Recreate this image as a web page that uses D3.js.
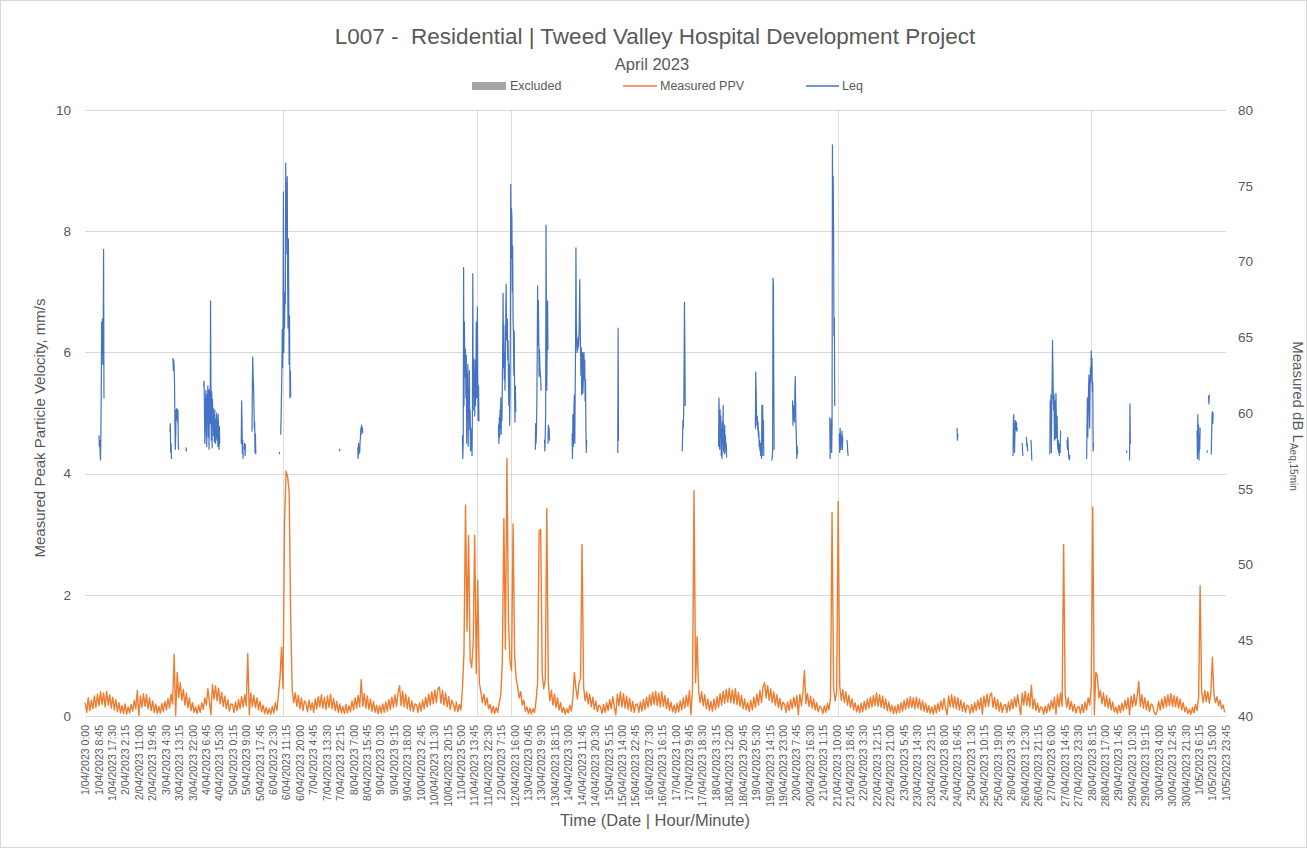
<!DOCTYPE html>
<html>
<head>
<meta charset="utf-8">
<script src="https://cdn.jsdelivr.net/npm/d3@7"></script>
<style>
  body { margin: 0; background: #fff; }
  svg { font-family: "Liberation Sans", Arial, sans-serif; }
</style>
</head>
<body>
<svg id="chart" width="1307" height="848"></svg>
<script>
// logger records every 15 min, 1/04/2023 0:00 -> 1/05/2023 23:45
const firstTime = "1/04/2023 0:00";
const lastTime = "1/05/2023 23:45";
const labelEvery = 35; // one category label every 8h45
const leftTicks = [0, 2, 4, 6, 8, 10];
const rightTicks = [40, 45, 50, 55, 60, 65, 70, 75, 80];

// Measured PPV (mm/s), hourly readings, one row per day
const ppv = [
  [0.22,0.06,0.30,0.09,0.26,0.12,0.33,0.14,0.36,0.17,0.40,0.19,0.38,0.15,0.41,0.18,0.35,0.13,0.31,0.10,0.27,0.07,0.22,0.05], // 1/04
  [0.17,0.04,0.20,0.03,0.15,0.05,0.19,0.08,0.26,0.12,0.42,0.01,0.33,0.14,0.37,0.16,0.35,0.12,0.30,0.09,0.25,0.06,0.20,0.04],
  [0.16,0.05,0.21,0.07,0.24,0.10,0.29,0.13,0.36,0.20,1.02,0.01,0.72,0.30,0.55,0.26,0.44,0.18,0.38,0.14,0.30,0.09,0.22,0.06],
  [0.15,0.04,0.18,0.06,0.22,0.11,0.30,0.18,0.45,0.24,0.02,0.52,0.28,0.50,0.25,0.46,0.20,0.39,0.16,0.33,0.12,0.27,0.08,0.20],
  [0.19,0.06,0.23,0.09,0.27,0.12,0.32,0.15,0.35,0.17,1.03,0.02,0.38,0.16,0.34,0.14,0.30,0.10,0.24,0.07,0.18,0.04,0.14,0.03], // 5/04
  [0.12,0.03,0.16,0.05,0.22,0.09,0.35,0.62,1.13,0.45,3.20,4.04,3.95,3.70,1.60,0.42,0.22,0.38,0.16,0.34,0.12,0.30,0.09,0.25],
  [0.21,0.07,0.26,0.10,0.22,0.06,0.28,0.12,0.32,0.15,0.35,0.13,0.31,0.11,0.33,0.14,0.36,0.12,0.29,0.09,0.24,0.06,0.20,0.05],
  [0.16,0.04,0.19,0.05,0.17,0.07,0.25,0.10,0.30,0.13,0.34,0.15,0.60,0.16,0.37,0.13,0.33,0.11,0.28,0.08,0.24,0.06,0.18,0.04],
  [0.17,0.05,0.20,0.06,0.23,0.08,0.27,0.11,0.31,0.14,0.35,0.16,0.38,0.50,0.17,0.41,0.15,0.36,0.12,0.31,0.09,0.25,0.07,0.20],
  [0.18,0.06,0.22,0.08,0.26,0.12,0.31,0.15,0.36,0.18,0.40,0.20,0.43,0.22,0.45,0.48,0.21,0.42,0.18,0.38,0.15,0.32,0.11,0.26], // 10/04
  [0.20,0.08,0.23,0.07,0.19,0.10,0.45,1.05,3.48,1.40,2.98,0.95,0.80,1.20,2.98,0.70,2.24,0.55,0.40,0.22,0.36,0.18,0.30,0.12],
  [0.19,0.05,0.16,0.04,0.14,0.06,0.22,0.35,0.90,3.26,1.10,4.25,1.60,0.90,0.75,3.17,1.00,0.62,0.48,0.30,0.40,0.18,0.26,0.08],
  [0.15,0.04,0.13,0.03,0.12,0.06,0.25,0.55,3.05,3.08,0.70,0.45,0.60,3.42,0.55,0.25,0.42,0.18,0.36,0.14,0.30,0.10,0.22,0.06],
  [0.14,0.03,0.12,0.05,0.18,0.08,0.30,0.72,0.45,0.28,0.55,0.62,2.83,0.48,0.25,0.40,0.20,0.36,0.15,0.31,0.11,0.25,0.07,0.18],
  [0.15,0.04,0.19,0.06,0.22,0.09,0.27,0.12,0.32,0.15,0.02,0.36,0.17,0.40,0.15,0.37,0.13,0.33,0.11,0.29,0.08,0.24,0.06,0.19], // 15/04
  [0.20,0.06,0.23,0.08,0.27,0.11,0.31,0.14,0.35,0.17,0.39,0.19,0.41,0.17,0.38,0.15,0.40,0.16,0.34,0.12,0.29,0.09,0.23,0.07],
  [0.18,0.05,0.21,0.07,0.25,0.10,0.30,0.13,0.34,0.16,0.42,0.02,0.45,3.72,0.55,1.31,0.42,0.22,0.40,0.17,0.35,0.12,0.28,0.09],
  [0.24,0.08,0.28,0.11,0.32,0.14,0.37,0.18,0.41,0.21,0.44,0.23,0.46,0.22,0.43,0.20,0.45,0.19,0.39,0.16,0.34,0.12,0.28,0.10],
  [0.22,0.07,0.26,0.10,0.31,0.14,0.36,0.18,0.42,0.22,0.48,0.55,0.30,0.50,0.26,0.45,0.22,0.40,0.18,0.35,0.14,0.29,0.10,0.23],
  [0.19,0.06,0.23,0.09,0.27,0.12,0.31,0.15,0.34,0.02,0.36,0.17,0.38,0.75,0.20,0.37,0.16,0.33,0.13,0.28,0.10,0.22,0.07,0.16], // 20/04
  [0.14,0.04,0.17,0.06,0.21,0.10,0.30,3.36,0.45,0.25,0.40,3.54,0.50,0.26,0.44,0.22,0.40,0.18,0.34,0.14,0.28,0.10,0.22,0.07],
  [0.18,0.05,0.21,0.07,0.24,0.10,0.28,0.13,0.31,0.15,0.34,0.17,0.38,0.16,0.35,0.14,0.33,0.12,0.28,0.09,0.23,0.07,0.18,0.04],
  [0.16,0.04,0.19,0.06,0.22,0.08,0.26,0.11,0.29,0.13,0.32,0.14,0.30,0.12,0.31,0.13,0.28,0.10,0.25,0.08,0.21,0.06,0.17,0.04],
  [0.15,0.03,0.18,0.05,0.21,0.08,0.25,0.11,0.29,0.13,0.02,0.33,0.15,0.35,0.14,0.32,0.12,0.30,0.10,0.26,0.08,0.22,0.06,0.18],
  [0.16,0.04,0.19,0.06,0.22,0.09,0.26,0.12,0.30,0.03,0.33,0.15,0.36,0.16,0.34,0.38,0.14,0.31,0.11,0.27,0.08,0.22,0.06,0.17], // 25/04
  [0.19,0.06,0.23,0.09,0.27,0.12,0.31,0.15,0.35,0.17,0.02,0.38,0.18,0.41,0.17,0.37,0.15,0.51,0.12,0.28,0.09,0.21,0.06,0.15],
  [0.13,0.03,0.16,0.05,0.20,0.09,0.26,0.12,0.31,0.03,0.35,0.15,0.38,0.16,2.83,0.36,0.14,0.30,0.11,0.24,0.08,0.19,0.05,0.14],
  [0.16,0.04,0.19,0.06,0.23,0.10,0.30,0.18,0.48,3.45,0.02,0.72,0.66,0.30,0.42,0.20,0.38,0.16,0.34,0.13,0.29,0.10,0.23,0.07],
  [0.15,0.04,0.18,0.06,0.21,0.09,0.26,0.12,0.30,0.02,0.33,0.15,0.36,0.17,0.33,0.57,0.16,0.35,0.13,0.30,0.10,0.25,0.07,0.20],
  [0.18,0.06,0.02,0.08,0.24,0.10,0.28,0.13,0.32,0.15,0.35,0.17,0.37,0.16,0.34,0.15,0.32,0.13,0.28,0.10,0.22,0.07,0.15,0.04], // 30/04
  [0.11,0.03,0.14,0.05,0.19,0.09,0.29,2.15,0.40,0.22,0.42,0.24,0.40,0.21,0.38,0.97,0.36,0.22,0.32,0.17,0.26,0.12,0.18,0.06]  // 1/05
];

// Excluded periods (drawn as full-height bars)
const excludedTimes = ["6/04/2023 9:30", "11/04/2023 15:45", "12/04/2023 14:00", "21/04/2023 11:00", "28/04/2023 8:15"];
const excludedValue = 10;

// Leq (dB LAeq,15min): only the logged runs, 15 min apart
const leqStart = [
  "1/04/2023 9:00", "3/04/2023 7:15", "3/04/2023 9:15", "3/04/2023 17:45", "4/04/2023 5:15",
  "5/04/2023 5:45", "5/04/2023 7:45", "5/04/2023 12:45", "6/04/2023 6:30", "6/04/2023 7:30",
  "7/04/2023 21:45", "8/04/2023 9:45", "11/04/2023 6:00", "12/04/2023 5:30", "13/04/2023 5:30",
  "13/04/2023 11:30", "13/04/2023 13:45", "14/04/2023 5:30", "15/04/2023 11:15", "17/04/2023 5:15",
  "18/04/2023 5:00", "19/04/2023 5:00", "19/04/2023 15:45", "20/04/2023 5:15", "21/04/2023 5:30",
  "21/04/2023 11:45", "21/04/2023 16:45", "24/04/2023 16:30", "26/04/2023 5:00", "26/04/2023 11:00",
  "26/04/2023 13:45", "26/04/2023 16:45", "27/04/2023 5:00", "27/04/2023 16:15", "28/04/2023 5:00",
  "29/04/2023 7:00", "29/04/2023 9:00", "1/05/2023 5:00", "1/05/2023 11:30", "1/05/2023 12:30",
  "1/05/2023 14:15"
];
const leqRuns = [
  [58.5,57.8,58.2,57.4,56.9,58.6,62.0,66.0,64.5,66.2,63.2,65.8,70.8,61.0],
  [58.8,59.3,57.4,58.0,57.0],
  [63.6,62.8,63.5,63.0,62.0,59.5,57.6,58.4,60.2,59.6,60.3,60.0,59.4,60.2,57.8,57.6],
  [57.7,57.5],
  [61.8,62.1,60.5,58.0,59.2,60.8,61.5,59.0,57.8,61.2,60.3,61.8,58.4,61.5,57.6,60.7,61.6,59.3,67.4,62.0,58.2,61.4,57.7,60.9,59.5,60.3,58.5,59.8,58.1,60.2,59.0,58.0,59.6,58.4,60.0,58.2,59.4,57.8,59.9,58.6,57.6,59.1,58.0],
  [58.0,60.8,59.5,57.3,58.2,57.0],
  [57.6,58.0,57.2,57.9],
  [58.8,61.7,63.7,62.5,61.8,60.8,59.0,59.4,57.4,58.6,57.3],
  [57.3,57.4],
  [58.6,59.8,61.2,62.8,65.5,63.0,66.4,74.6,64.0,66.8,65.6,68.0,67.2,76.5,70.5,75.2,73.8,75.6,69.0,65.6,71.5,67.0,63.2,66.4,61.0,62.8,61.1],
  [57.6,57.5],
  [57.7,57.0,58.0,57.3,57.8,57.4,58.1,58.4,59.0,58.6,59.2,58.9,59.0,58.7],
  [58.5,57.0,58.2,69.6,60.5,66.0,63.6,62.4,64.2,61.0,63.8,58.0,62.6,60.4,63.2,57.8,61.5,59.6,62.8,58.9,60.2,57.5,59.0,57.6,58.4,57.2,60.1,69.2,60.2,63.6,61.2,62.8,59.8,63.5,60.5,62.2,66.0,61.0,63.4,67.0,62.0,59.5,61.8,59.5],
  [59.2,58.0,59.7,58.4,60.2,59.0,61.0,58.6,60.5,59.5,62.0,64.5,67.9,63.0,65.8,62.2,64.0,61.5,63.8,66.5,68.5,65.0,64.8,66.2,63.5,64.8,62.0,60.5,63.2,59.2,61.0,66.0,75.1,70.2,73.5,72.8,68.0,71.0,66.2,65.4,62.5,65.4,61.2,59.4,61.8,60.1],
  [57.6,59.3,58.0,58.8,60.5,63.8,68.4,64.5,67.4,65.0,62.4,64.2,63.0,62.6,62.4,61.5],
  [58.2,57.5,58.6,60.0,72.4,66.0,61.5,64.8,67.4,64.2],
  [58.0,59.2,58.4,59.0,58.2],
  [58.6,57.0,59.9,57.8,58.4,60.5,61.2,58.0,61.3,64.5,70.9,66.0,64.7,64.0,64.8,64.2,65.0,64.4,65.2,66.8,68.8,66.0,64.2,62.5,64.3,61.2,62.8,64.0,61.3,62.0,63.8,64.0,62.2,63.5,60.8,62.2,59.0,57.4,58.2],
  [57.4,65.6,58.2],
  [57.5,58.2,59.5,59.0,60.0,62.5,67.3,64.8,60.5],
  [57.8,61.0,59.2,57.6,60.2,58.4,59.8,57.2,58.9,57.0,59.4,58.0,60.5,57.5,58.8,57.3,59.2,57.8,58.5,57.4,58.0,57.1],
  [59.0,62.7,61.5,59.8,59.2,59.8,58.9,59.4,58.4,58.8,57.8,58.2,57.5,58.0,57.2,57.6,57.0,60.5,57.2,60.5,58.2,59.5,57.2],
  [56.9,57.1,57.6,68.9,68.5,62.0,57.6],
  [60.8,59.2,60.5,59.6,60.0,59.4,61.3,62.4,60.6,59.2,58.2,57.0,57.8,57.3],
  [59.7,57.0,58.2,58.8,59.6,57.4,59.2,77.7,72.0,75.6,71.6,65.1,66.3,60.5],
  [58.6,57.4,59.0,58.4,57.6,58.5,58.2,58.8,57.6,58.4],
  [58.2,57.9,57.4,57.2],
  [59.0,58.2,58.6],
  [57.2,59.5,59.9,58.0,57.4,58.6,59.5,59.2,58.9,59.4,58.8,59.0],
  [58.0,57.4,57.2],
  [58.4,57.8,58.0,57.5],
  [58.2,57.6,56.9],
  [57.3,60.8,59.5,61.2,57.4,60.4,62.0,64.8,63.0,61.0,60.2,61.2,58.2,60.8,59.0,58.3,61.3,59.6,58.4,59.8,58.0,57.6,58.2,57.4,57.9,57.2,58.0,57.4,58.8],
  [58.2,57.6,58.4,57.8,57.2,57.0,56.9,57.2],
  [57.0,59.2,61.0,58.4,60.2,61.5,62.5,60.4,59.0,61.8,63.0,62.0,64.1,63.2,63.6,61.4,62.0,57.5,58.0],
  [57.5,57.4],
  [56.9,60.6,58.0],
  [58.8,57.0,59.9,57.4,59.2,56.9,58.5,57.6,59.0],
  [57.4,57.5],
  [61.1,60.6,61.2],
  [57.3,58.5,59.8,60.1,59.3,60.0]
];

const parseTime = d3.utcParse("%d/%m/%Y %H:%M");
const fmtTime = d3.utcFormat("%-d/%m/%Y %-H:%M");
const t0 = parseTime(firstTime);
const categories = d3.utcMinute.every(15).range(t0, new Date(+parseTime(lastTime) + 1));
const slotOf = s => Math.round((parseTime(s) - t0) / 9e5);

const svg = d3.select("#chart");
const W = +svg.attr("width"), H = +svg.attr("height");
const margin = {top: 110, right: 81, bottom: 132, left: 85};
const plotW = W - margin.left - margin.right, plotH = H - margin.top - margin.bottom;
const textCol = "#595959";

svg.append("rect").attr("x", 0.5).attr("y", 0.5).attr("width", W - 1).attr("height", H - 1)
  .attr("fill", "#fff").attr("stroke", "#d9d9d9");

const x = d3.scaleBand().domain(d3.range(categories.length)).range([0, plotW]);
const xc = i => x(i) + x.bandwidth() / 2;
const yL = d3.scaleLinear().domain([0, 10]).range([plotH, 0]);
const yR = d3.scaleLinear().domain([40, 80]).range([plotH, 0]);

const g = svg.append("g").attr("transform", "translate(" + margin.left + "," + margin.top + ")");

// gridlines
g.append("g").selectAll("line").data(leftTicks).enter().append("line")
  .attr("x1", 0).attr("x2", plotW)
  .attr("y1", d => Math.round(yL(d)) + 0.5).attr("y2", d => Math.round(yL(d)) + 0.5)
  .attr("stroke", "#d9d9d9").attr("stroke-width", 1);

// excluded bars
g.append("g").selectAll("rect").data(excludedTimes).enter().append("rect")
  .attr("x", d => x(slotOf(d)))
  .attr("width", x.bandwidth())
  .attr("y", yL(excludedValue))
  .attr("height", plotH - yL(excludedValue))
  .attr("fill", "#a5a5a5");

// PPV line
const ppvPts = ppv.flat().map((v, k) => [k * 4, v]);
g.append("path").datum(ppvPts)
  .attr("fill", "none").attr("stroke", "#ed7d31").attr("stroke-width", 1.4)
  .attr("stroke-linejoin", "round")
  .attr("d", d3.line().x(d => xc(d[0])).y(d => yL(d[1])));

// Leq runs
const leqLine = d3.line().x(d => xc(d[0])).y(d => yR(d[1]));
g.append("g").selectAll("path").data(leqRuns.map((run, r) => {
    const s = slotOf(leqStart[r]);
    return run.map((v, j) => [s + j, v]);
  })).enter().append("path")
  .attr("fill", "none").attr("stroke", "#4472c4").attr("stroke-width", 1.2)
  .attr("stroke-linejoin", "round").attr("stroke-linecap", "round")
  .attr("d", leqLine);

// axes
const xAxis = g.append("g").attr("transform", "translate(0," + plotH + ")")
  .call(d3.axisBottom(x)
    .tickValues(d3.range(0, categories.length, labelEvery))
    .tickFormat(i => fmtTime(categories[i]))
    .tickSize(0));
xAxis.select(".domain").remove();
xAxis.selectAll("text")
  .attr("transform", "rotate(-90)")
  .attr("x", -9).attr("y", 0).attr("dy", "0.35em")
  .style("text-anchor", "end")
  .attr("fill", textCol).attr("font-size", 10.5);

const yAxisL = g.append("g")
  .call(d3.axisLeft(yL).tickValues(leftTicks).tickSize(0).tickPadding(14));
yAxisL.select(".domain").remove();
yAxisL.selectAll("text").attr("fill", textCol).attr("font-size", 13.5);

const yAxisR = g.append("g").attr("transform", "translate(" + plotW + ",0)")
  .call(d3.axisRight(yR).tickValues(rightTicks).tickSize(0).tickPadding(12));
yAxisR.select(".domain").remove();
yAxisR.selectAll("text").attr("fill", textCol).attr("font-size", 13.5);

// titles
svg.append("text").attr("x", 655).attr("y", 44).attr("text-anchor", "middle")
  .attr("fill", textCol).attr("font-size", 22.5).style("white-space", "pre")
  .text("L007 -  Residential | Tweed Valley Hospital Development Project");
svg.append("text").attr("x", 652).attr("y", 70).attr("text-anchor", "middle")
  .attr("fill", textCol).attr("font-size", 16.5).text("April 2023");

svg.append("text")
  .attr("transform", "translate(45,428) rotate(-90)")
  .attr("text-anchor", "middle").attr("fill", textCol).attr("font-size", 15)
  .text("Measured Peak Particle Velocity, mm/s");

const rt = svg.append("text")
  .attr("transform", "translate(1293,416) rotate(90)")
  .attr("text-anchor", "middle").attr("fill", textCol).attr("font-size", 15);
rt.append("tspan").text("Measured dB L");
rt.append("tspan").attr("font-size", 10).attr("dy", 3).text("Aeq,15min");

svg.append("text").attr("x", 655).attr("y", 826).attr("text-anchor", "middle")
  .attr("fill", textCol).attr("font-size", 16.5).text("Time (Date | Hour/Minute)");

// legend
const legend = svg.append("g").attr("font-size", 12.5).attr("fill", textCol);
legend.append("rect").attr("x", 472).attr("y", 82).attr("width", 34).attr("height", 8).attr("fill", "#a5a5a5");
legend.append("text").attr("x", 510).attr("y", 90).text("Excluded");
legend.append("line").attr("x1", 623).attr("x2", 657).attr("y1", 86).attr("y2", 86)
  .attr("stroke", "#ed7d31").attr("stroke-width", 1.5);
legend.append("text").attr("x", 660).attr("y", 90).text("Measured PPV");
legend.append("line").attr("x1", 806).attr("x2", 839).attr("y1", 86).attr("y2", 86)
  .attr("stroke", "#4472c4").attr("stroke-width", 1.5);
legend.append("text").attr("x", 842).attr("y", 90).text("Leq");
</script>
</body>
</html>
